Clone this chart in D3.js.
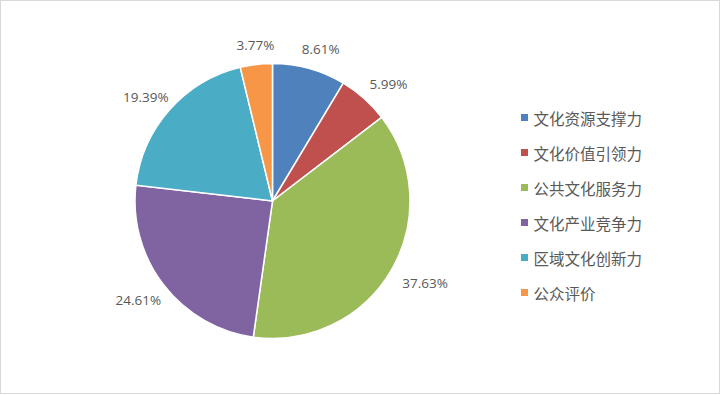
<html>
<head>
  <meta charset="utf-8">
  <script src="https://d3js.org/d3.v7.min.js"></script>
  <style>
    body { margin: 0; background: #fff; }
    .outline { fill: #fff; stroke: #d9d9d9; stroke-width: 1px; }
    .slice { stroke: #fff; stroke-width: 1.5px; }
    .pct { font-family: "Open Sans", "Liberation Sans", sans-serif; font-size: 13.5px; fill: #595959; }
    .legend text { font-family: "Noto Sans CJK SC", sans-serif; font-size: 15.5px; fill: #595959; }
  </style>
</head>
<body>
  <svg id="chart" width="720" height="395"></svg>
  <script>

    // Data (clockwise from 12 o'clock)
    const categories = ["文化资源支撑力", "文化价值引领力", "公共文化服务力", "文化产业竞争力", "区域文化创新力", "公众评价"];
    const shares = [8.61, 5.99, 37.63, 24.61, 19.39, 3.77];
    const colors = ["#4F81BD", "#C0504D", "#9BBB59", "#8064A2", "#4BACC6", "#F79646"];

    const data = categories.map((c, i) => ({ name: c, value: shares[i], color: colors[i] }));

    const svg = d3.select("svg#chart");
    const width = +svg.attr("width");
    const height = +svg.attr("height");

    // chart area frame
    svg.append("rect").attr("class", "outline")
       .attr("x", 0.5).attr("y", 0.5)
       .attr("width", width - 1).attr("height", height - 2);

    const center = { x: 272.5, y: 201 };
    const radius = 137.5;

    const pie = d3.pie().value(d => d.value).sort(null);
    const arc = d3.arc().innerRadius(0).outerRadius(radius);
    const arcs = pie(data);

    const g = svg.append("g").attr("transform", `translate(${center.x},${center.y})`);

    g.selectAll("path.slice").data(arcs)
     .join("path").attr("class", "slice")
     .attr("fill", d => d.data.color)
     .attr("d", arc);

    // Outside-end labels: push the text box out along the mid angle
    const labelGap = 13;
    const labels = g.selectAll("text.pct").data(arcs)
      .join("text").attr("class", "pct")
      .attr("text-anchor", "middle")
      .attr("dominant-baseline", "central")
      .text(d => d.data.value.toFixed(2) + "%");

    labels.each(function(d) {
      const a = (d.startAngle + d.endAngle) / 2;
      const ux = Math.sin(a), uy = -Math.cos(a);
      const box = this.getBBox();
      const x = (radius + labelGap) * ux + ux * box.width / 2 + 3;
      const y = (radius + labelGap) * uy + uy * box.height / 2 + 2;
      d3.select(this).attr("x", x).attr("y", y);
    });

    // Legend
    const legendX = 521, legendY = 117.5, legendStep = 35;
    const legend = svg.append("g").attr("class", "legend")
      .selectAll("g").data(data)
      .join("g")
      .attr("transform", (d, i) => `translate(${legendX},${legendY + i * legendStep})`);

    legend.append("rect")
      .attr("x", 0).attr("y", -3.5)
      .attr("width", 7).attr("height", 7)
      .attr("fill", d => d.color);

    legend.append("text")
      .attr("x", 12.5).attr("y", 0)
      .attr("dominant-baseline", "central")
      .text(d => d.name);

  </script>
</body>
</html>
